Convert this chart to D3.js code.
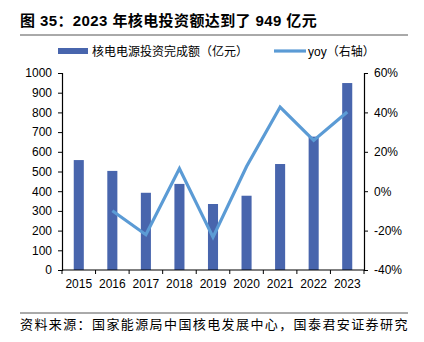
<!DOCTYPE html>
<html>
<head>
<meta charset="utf-8">
<script src="https://cdnjs.cloudflare.com/ajax/libs/d3/7.8.5/d3.min.js"></script>
<style>
  body { margin: 0; background: #fff; }
  svg text { font-family: "Liberation Sans", Arial, "Noto Sans CJK SC", sans-serif; }
  .cjk { font-family: "Liberation Sans", "Noto Sans CJK SC", sans-serif; }
</style>
</head>
<body>
<div id="chart"></div>
<script>
// data
var years = ["2015", "2016", "2017", "2018", "2019", "2020", "2021", "2022", "2023"];
var investment = [558, 503, 392, 437, 335, 377, 538, 677, 949];
var yoy = [null, -9.9, -22.1, 11.5, -23.3, 12.5, 42.7, 25.8, 40.2];
var leftTicks = [0, 100, 200, 300, 400, 500, 600, 700, 800, 900, 1000];
var rightTicks = [-40, -20, 0, 20, 40, 60];

var W = 424, H = 342;
var margin = { top: 73, right: 60, bottom: 72, left: 62 };

var svg = d3.select("#chart").append("svg")
    .attr("width", W)
    .attr("height", H);

// title
svg.append("text")
    .attr("class", "cjk")
    .attr("x", 20)
    .attr("y", 26)
    .attr("font-size", 15)
    .attr("font-weight", "bold")
    .attr("letter-spacing", 0.4)
    .attr("fill", "#000")
    .text("图 35：2023 年核电投资额达到了 949 亿元");

svg.append("line")
    .attr("x1", 20).attr("x2", 408)
    .attr("y1", 35).attr("y2", 35)
    .attr("stroke", "#555").attr("stroke-width", 1);

var x = d3.scaleBand()
    .domain(years)
    .range([margin.left, W - margin.right])
    .paddingInner(0.7)
    .paddingOuter(0.35);

var yL = d3.scaleLinear()
    .domain([0, 1000])
    .range([H - margin.bottom, margin.top]);

var yR = d3.scaleLinear()
    .domain([-40, 60])
    .range([H - margin.bottom, margin.top]);

// bars
svg.append("g").selectAll("rect")
    .data(investment)
    .enter()
    .append("rect")
    .attr("x", function(d, i){ return x(years[i]); })
    .attr("width", x.bandwidth())
    .attr("y", function(d){ return yL(d); })
    .attr("height", function(d){ return yL(0) - yL(d); })
    .attr("fill", "#4865ad");

// yoy line
var line = d3.line()
    .defined(function(d){ return d != null; })
    .x(function(d, i){ return x(years[i]) + x.bandwidth() / 2; })
    .y(function(d){ return yR(d); });

svg.append("path")
    .datum(yoy)
    .attr("d", line)
    .attr("fill", "none")
    .attr("stroke", "#5b9bd5")
    .attr("stroke-width", 3.2)
    .attr("stroke-linejoin", "miter");

// axes
var leftAxis = svg.append("g")
    .attr("transform", "translate(" + margin.left + ",0)")
    .call(d3.axisLeft(yL).tickValues(leftTicks).tickSize(4).tickPadding(6)
        .tickFormat(d3.format("d")));

var rightAxis = svg.append("g")
    .attr("transform", "translate(" + (W - margin.right) + ",0)")
    .call(d3.axisRight(yR).tickValues(rightTicks).tickSize(4).tickPadding(6)
        .tickFormat(function(d){ return d + "%"; }));

var xAxis = d3.axisBottom(x).tickSize(0).tickPadding(9);
var bottomAxis = svg.append("g")
    .attr("transform", "translate(0," + (H - margin.bottom) + ")")
    .call(xAxis);

// category boundary ticks on the x axis
var bounds = d3.range(years.length + 1).map(function(i){ return margin.left + i * (W - margin.right - margin.left) / years.length; });
bottomAxis.selectAll("line.bound")
    .data(bounds)
    .enter()
    .append("line")
    .attr("class", "bound")
    .attr("x1", function(d){ return d; })
    .attr("x2", function(d){ return d; })
    .attr("y1", 0).attr("y2", 4)
    .attr("stroke", "#000");

[leftAxis, rightAxis, bottomAxis].forEach(function(g){
    g.select(".domain").attr("stroke", "#000").attr("stroke-width", 1.2);
    g.selectAll(".tick line").attr("stroke", "#000");
    g.selectAll("text").attr("font-size", 12).attr("fill", "#000")
        .attr("font-family", "'Liberation Sans', Arial, sans-serif");
});
bottomAxis.select(".domain").attr("d", "M" + margin.left + ",0H" + (W - margin.right));

// legend
var legend = svg.append("g");
legend.append("rect")
    .attr("x", 58).attr("y", 48)
    .attr("width", 30).attr("height", 6)
    .attr("fill", "#4865ad");
legend.append("text")
    .attr("class", "cjk")
    .attr("x", 92).attr("y", 56)
    .attr("font-size", 12)
    .attr("fill", "#000")
    .text("核电电源投资完成额（亿元）");
legend.append("line")
    .attr("x1", 274).attr("x2", 306)
    .attr("y1", 51).attr("y2", 51)
    .attr("stroke", "#5b9bd5")
    .attr("stroke-width", 3.2);
legend.append("text")
    .attr("class", "cjk")
    .attr("x", 308).attr("y", 56)
    .attr("font-size", 12)
    .attr("fill", "#000")
    .text("yoy（右轴）");

// source footer
svg.append("line")
    .attr("x1", 20).attr("x2", 408)
    .attr("y1", 313).attr("y2", 313)
    .attr("stroke", "#555").attr("stroke-width", 1);

svg.append("text")
    .attr("x", 20)
    .attr("y", 329)
    .attr("font-size", 13)
    .attr("letter-spacing", 1.4)
    .attr("fill", "#000")
    .attr("font-family", "'Noto Sans CJK SC', sans-serif")
    .text("资料来源：国家能源局中国核电发展中心，国泰君安证券研究");
</script>
</body>
</html>
